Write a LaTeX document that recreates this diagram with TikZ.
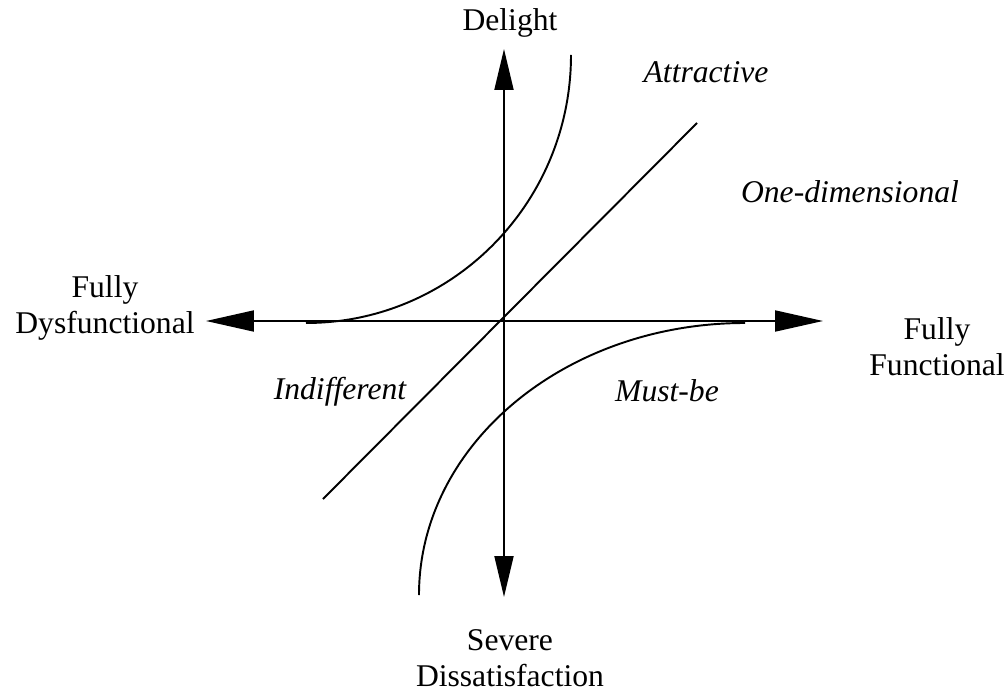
\documentclass[tikz,border=0pt]{standalone}
\usepackage{fontspec}
\setmainfont{Liberation Serif}
\usetikzlibrary{arrows.meta}

\begin{document}
\begin{tikzpicture}[x=0.02cm,y=0.02cm,line width=1.1pt,font=\fontsize{18}{20}\selectfont,
  harr/.style={{Triangle[length=9.6mm,width=4.2mm]}-{Triangle[length=9.6mm,width=4.2mm]}},
  varr/.style={{Triangle[length=8.2mm,width=3.8mm]}-{Triangle[length=8.2mm,width=3.8mm]}},
  kind/.style={font=\fontsize{18}{20}\selectfont\itshape,anchor=base}]
\useasboundingbox (-504,-372) rectangle (503,321);
\coordinate (west) at (-298,0);
\coordinate (east) at (319,0);
\coordinate (north) at (0,272);
\coordinate (south) at (0,-276);
% axes
\draw[harr] (west) -- (east);
\draw[varr] (north) -- (south);
% curves
\draw (-198,-2) arc[start angle=270,end angle=360,x radius=265,y radius=268];
\draw (-181,-178) -- (193,198);
\draw (241,-2) arc[start angle=90,end angle=180,x radius=326,y radius=272];
% axis labels
\node[anchor=base] (delight) at (6,290) {Delight};
\node[anchor=base,align=center] (dysf) at (-399,-12) {Fully\\Dysfunctional};
\node[anchor=base,align=center] (func) at (433,-54) {Fully\\Functional};
\node[anchor=base,align=center] (severe) at (6,-365) {Severe\\Dissatisfaction};
% category labels
\node[kind] (attr) at (202,238) {Attractive};
\node[kind] (onedim) at (346,118) {One-dimensional};
\node[kind] (indiff) at (-164,-78) {Indifferent};
\node[kind] (mustbe) at (163,-80) {Must-be};
\end{tikzpicture}
\end{document}
